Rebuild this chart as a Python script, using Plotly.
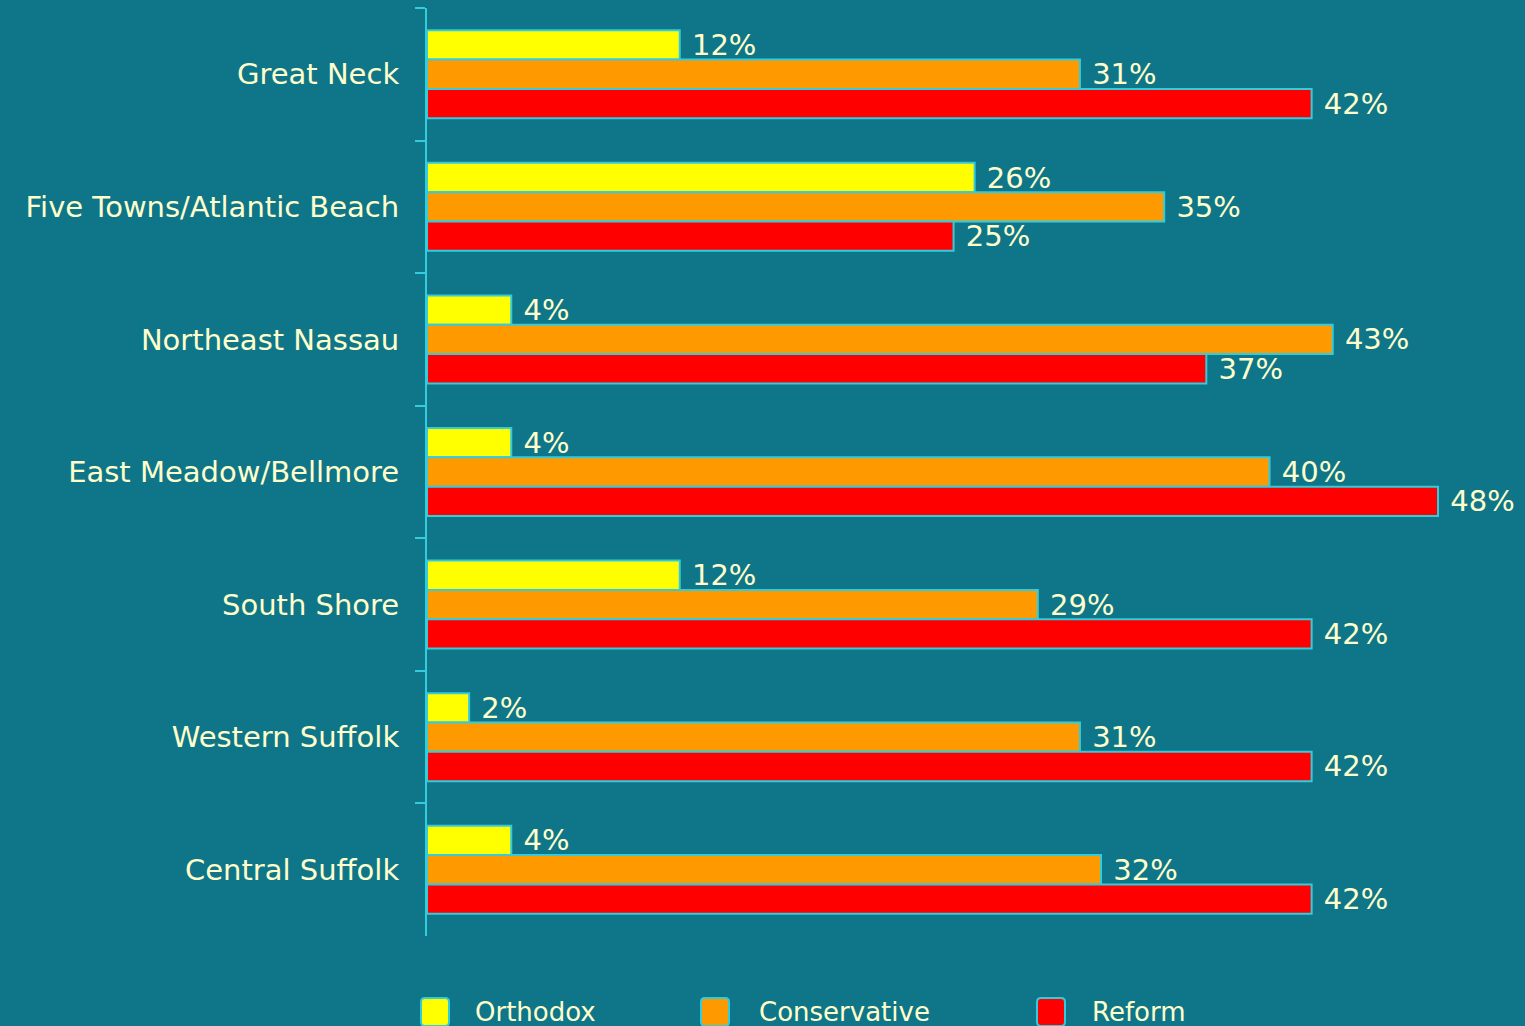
import plotly.graph_objects as go

regions = ["Great Neck", "Five Towns/Atlantic Beach", "Northeast Nassau",
           "East Meadow/Bellmore", "South Shore", "Western Suffolk", "Central Suffolk"]
orthodox = [12, 26, 4, 4, 12, 2, 4]
conservative = [31, 35, 43, 40, 29, 31, 32]
reform = [42, 25, 37, 48, 42, 42, 42]

series_names = ["Orthodox", "Conservative", "Reform"]
series_colors = ["#FFFF00", "#FF9900", "#FF0000"]
series_values = [orthodox, conservative, reform]

BG = "#0F768A"
TXT = "#FFFFCC"
EDGE = "#33CCDD"
FONT = "DejaVu Sans"

fig = go.Figure()
for name, vals, col in zip(series_names, series_values, series_colors):
    fig.add_trace(go.Bar(
        y=regions, x=vals, name=name, orientation="h",
        marker=dict(color=col, line=dict(color=EDGE, width=2)),
        text=[f"\u00a0{v}%" for v in vals], textposition="outside",
        constraintext="none",
        textfont=dict(color=TXT, size=29, family=FONT),
        cliponaxis=False, showlegend=False, hoverinfo="skip",
    ))

# custom legend (large rounded swatches like the original)
legend_swatch_x = [0.0073, 0.2623, 0.5683]
legend_text_x = [0.0419, 0.3005, 0.6038]
legend_y = -0.0819
half = 14
r = 4
rounded = (f"M{-half + r},{-half} L{half - r},{-half} Q{half},{-half} {half},{-half + r} "
           f"L{half},{half - r} Q{half},{half} {half - r},{half} L{-half + r},{half} "
           f"Q{-half},{half} {-half},{half - r} L{-half},{-half + r} Q{-half},{-half} {-half + r},{-half} Z")
for name, col, sx, tx in zip(series_names, series_colors, legend_swatch_x, legend_text_x):
    fig.add_shape(type="path", xref="paper", yref="paper",
                  xsizemode="pixel", ysizemode="pixel", xanchor=sx, yanchor=legend_y,
                  path=rounded, fillcolor=col, line=dict(color=EDGE, width=2), layer="above")
    fig.add_annotation(text=name, xref="paper", yref="paper", x=tx, y=legend_y,
                       xanchor="left", yanchor="middle", showarrow=False,
                       font=dict(size=26, color=TXT, family=FONT))

fig.update_layout(
    width=1525, height=1026,
    paper_bgcolor=BG, plot_bgcolor=BG,
    margin=dict(l=427, r=0, t=8, b=90),
    barmode="group", bargap=0.336, bargroupgap=0,
    font=dict(family=FONT, color=TXT, size=29),
    showlegend=False,
)
fig.update_xaxes(range=[0, 52.13], showgrid=False, zeroline=False, showline=False,
                 showticklabels=False, ticks="")
fig.update_yaxes(autorange="reversed", showgrid=False, zeroline=False,
                 showline=True, linecolor=EDGE, linewidth=2,
                 ticks="outside", tickson="boundaries", ticklen=10, tickcolor=EDGE, tickwidth=2,
                 tickfont=dict(size=29, color=TXT, family=FONT), ticklabelstandoff=20)

fig.write_html("out.html", config={"displayModeBar": False},
               post_script="document.body.style.margin='0px';document.body.style.overflow='hidden';")
